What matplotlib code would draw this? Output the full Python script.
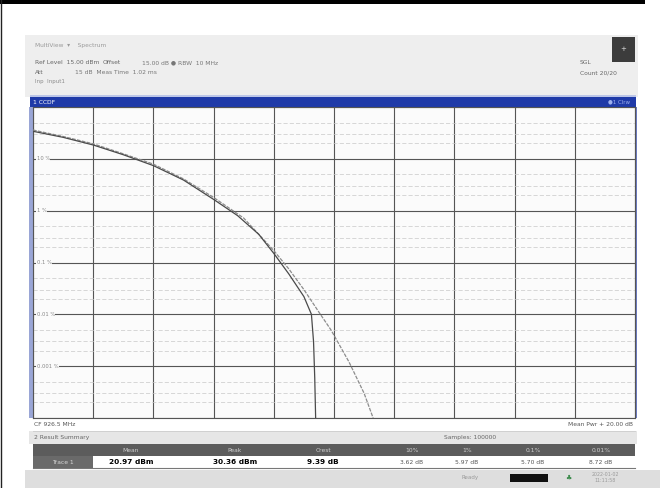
import matplotlib
matplotlib.use("Agg")
import matplotlib.pyplot as plt
from matplotlib.patches import Rectangle
from matplotlib.ticker import LogLocator, MultipleLocator, NullFormatter

# ---------------- data ----------------
meas_db = [0.0, 1.0, 2.0, 3.0, 4.0, 5.0, 6.0, 6.8, 7.5, 8.0, 8.5, 9.0, 9.25, 9.32, 9.36, 9.39]
meas_pct = [34.0, 26.0, 18.5, 12.0, 7.4, 3.9, 1.65, 0.8, 0.35, 0.15, 0.06, 0.022, 0.01, 0.003, 0.0006, 0.0001]

gauss_db = [0.0, 1.0, 2.0, 3.0, 4.0, 5.0, 6.0, 7.0, 8.0, 8.5, 9.0, 9.5, 9.9, 10.5, 11.0, 11.3]
gauss_pct = [36.0, 27.0, 19.5, 12.5, 7.9, 4.1, 1.8, 0.72, 0.17, 0.075, 0.03, 0.011, 0.005, 0.0012, 0.0003, 0.0001]

y_tick_values = [10, 1, 0.1, 0.01, 0.001]
y_tick_labels = ["10 %", "1 %", "0.1 %", "0.01 %", "0.001 %"]

table_headers = ["", "Mean", "Peak", "Crest", "10%", "1%", "0.1%", "0.01%"]
table_values = ["Trace 1", "20.97 dBm", "30.36 dBm", "9.39 dB", "3.62 dB", "5.97 dB", "5.70 dB", "8.72 dB"]

W, H = 660, 488
fig = plt.figure(figsize=(W / 100, H / 100), dpi=100)
fig.patch.set_facecolor("white")

# overlay axes in pixel coordinates
ov = fig.add_axes([0, 0, 1, 1])
ov.set_xlim(0, W)
ov.set_ylim(H, 0)
ov.axis("off")

def rect(x0, y0, x1, y1, color, z=1, **kw):
    ov.add_patch(Rectangle((x0, y0), x1 - x0, y1 - y0, facecolor=color, edgecolor="none", zorder=z, **kw))

def txt(x, y, s, size=4.5, color="#555555", ha="left", weight="normal", z=5):
    ov.text(x, y, s, fontsize=size, color=color, ha=ha, va="center", weight=weight, zorder=z,
            family="DejaVu Sans")

# page frame
rect(0, 0, 645, 4, "black", z=2)
ov.plot([0.5, 0.5], [0, H], color="#222222", lw=1.0, zorder=2)

# header panel
rect(25, 35, 638, 97, "#eeeeee")
rect(612, 37, 635, 62, "#3c3c3c", z=2)
txt(623.5, 49, "+", size=5, color="#dddddd", ha="center")
txt(35, 46, "MultiView  \u25be    Spectrum", size=4.2, color="#9a9a9a")
txt(35, 63, "Ref Level  15.00 dBm", size=4.3, color="#666666")
txt(103, 63, "Offset", size=4.3, color="#666666")
txt(142, 63, "15.00 dB \u25cf RBW  10 MHz", size=4.3, color="#777777")
txt(35, 73, "Att", size=4.3, color="#666666")
txt(75, 73, "15 dB  Meas Time  1.02 ms", size=4.3, color="#777777")
txt(35, 82, "Inp  Input1", size=4.0, color="#8a8a8a")
txt(580, 63, "SGL", size=4.3, color="#666666")
txt(580, 73, "Count 20/20", size=4.3, color="#666666")
rect(30, 95, 636, 97, "#bcc6e8", z=2)

# blue title bar
rect(30, 97, 636, 107, "#1f3aa8", z=2)
txt(33, 102, "1 CCDF", size=4.3, color="white")
txt(630, 102, "\u25cf1 Clrw", size=4.0, color="#9db0ee", ha="right")

# frame sides
rect(29, 107, 33, 418, "#9aa6d6", z=2)
rect(635, 107, 637, 418, "#6c7cc4", z=2)

# bottom areas
rect(29, 418, 637, 431, "white")
ov.plot([33, 635], [430.5, 430.5], color="#cccccc", lw=0.6, zorder=2)
txt(34, 424, "CF 926.5 MHz", size=4.3, color="#555555")
txt(633, 424, "Mean Pwr + 20.00 dB", size=4.3, color="#555555", ha="right")

rect(29, 431, 637, 444, "#e6e6e6")
txt(34, 438, "2 Result Summary", size=4.3, color="#666666")
txt(470, 438, "Samples: 100000", size=4.3, color="#666666", ha="center")

rect(33, 444, 635, 456, "#5c5c5c", z=2)
rect(33, 456, 635, 468, "white", z=2)
rect(33, 456, 93, 468, "#6a6a6a", z=3)
ov.plot([33, 635], [468, 468], color="#777777", lw=0.8, zorder=3)

col_x = [63, 131, 235, 323, 412, 467, 533, 601]
for i, (h, v) in enumerate(zip(table_headers, table_values)):
    if h:
        txt(col_x[i], 450, h, size=4.3, color="#cfcfcf", ha="center")
    if i == 0:
        txt(col_x[i], 462, v, size=4.3, color="#d8d8d8", ha="center")
    elif i <= 3:
        txt(col_x[i], 462, v, size=5.3, color="black", ha="center", weight="bold")
    else:
        txt(col_x[i], 462, v, size=4.3, color="#555555", ha="center")

rect(25, 470, 660, 488, "#dedede")
txt(470, 478, "Ready", size=4.0, color="#999999", ha="center")
rect(510, 474, 548, 482, "#111111", z=2)
txt(568, 478, "\u2663", size=5, color="#3a8a4a", ha="center")
txt(605, 475, "2022-01-02", size=3.4, color="#9a9a9a", ha="center")
txt(605, 481, "11:11:58", size=3.4, color="#9a9a9a", ha="center")

# ---------------- plot area ----------------
x0, x1, y0, y1 = 33, 635, 107, 418
ax = fig.add_axes([x0 / W, 1 - y1 / H, (x1 - x0) / W, (y1 - y0) / H])
ax.set_facecolor("#fbfbfb")
ax.set_yscale("log")
ax.set_xlim(0, 20)
ax.set_ylim(1e-4, 100)
ax.xaxis.set_major_locator(MultipleLocator(2))
ax.yaxis.set_major_locator(LogLocator(base=10, numticks=20))
ax.yaxis.set_minor_locator(LogLocator(base=10, subs=(2, 3, 5), numticks=20))
ax.grid(True, which="major", color="#555555", lw=0.8)
ax.grid(True, which="minor", axis="y", color="#c8c8c8", lw=0.5, ls=(0, (6, 3)))
ax.tick_params(which="both", length=0, labelbottom=False, labelleft=False)
ax.yaxis.set_minor_formatter(NullFormatter())
for s in ax.spines.values():
    s.set_color("#555555")
    s.set_linewidth(0.8)

ax.plot(gauss_db, gauss_pct, color="#8c8c8c", lw=0.9, ls=(0, (3, 1)), zorder=3)
ax.plot(meas_db, meas_pct, color="#4a4a4a", lw=0.9, zorder=4)

for v, lab in zip(y_tick_values, y_tick_labels):
    ax.text(0.12, v, lab, fontsize=3.8, color="#888888", va="center", ha="left",
            zorder=5, bbox=dict(facecolor="#fbfbfb", edgecolor="none", pad=0.4))

fig.savefig("out.png", dpi=100)
